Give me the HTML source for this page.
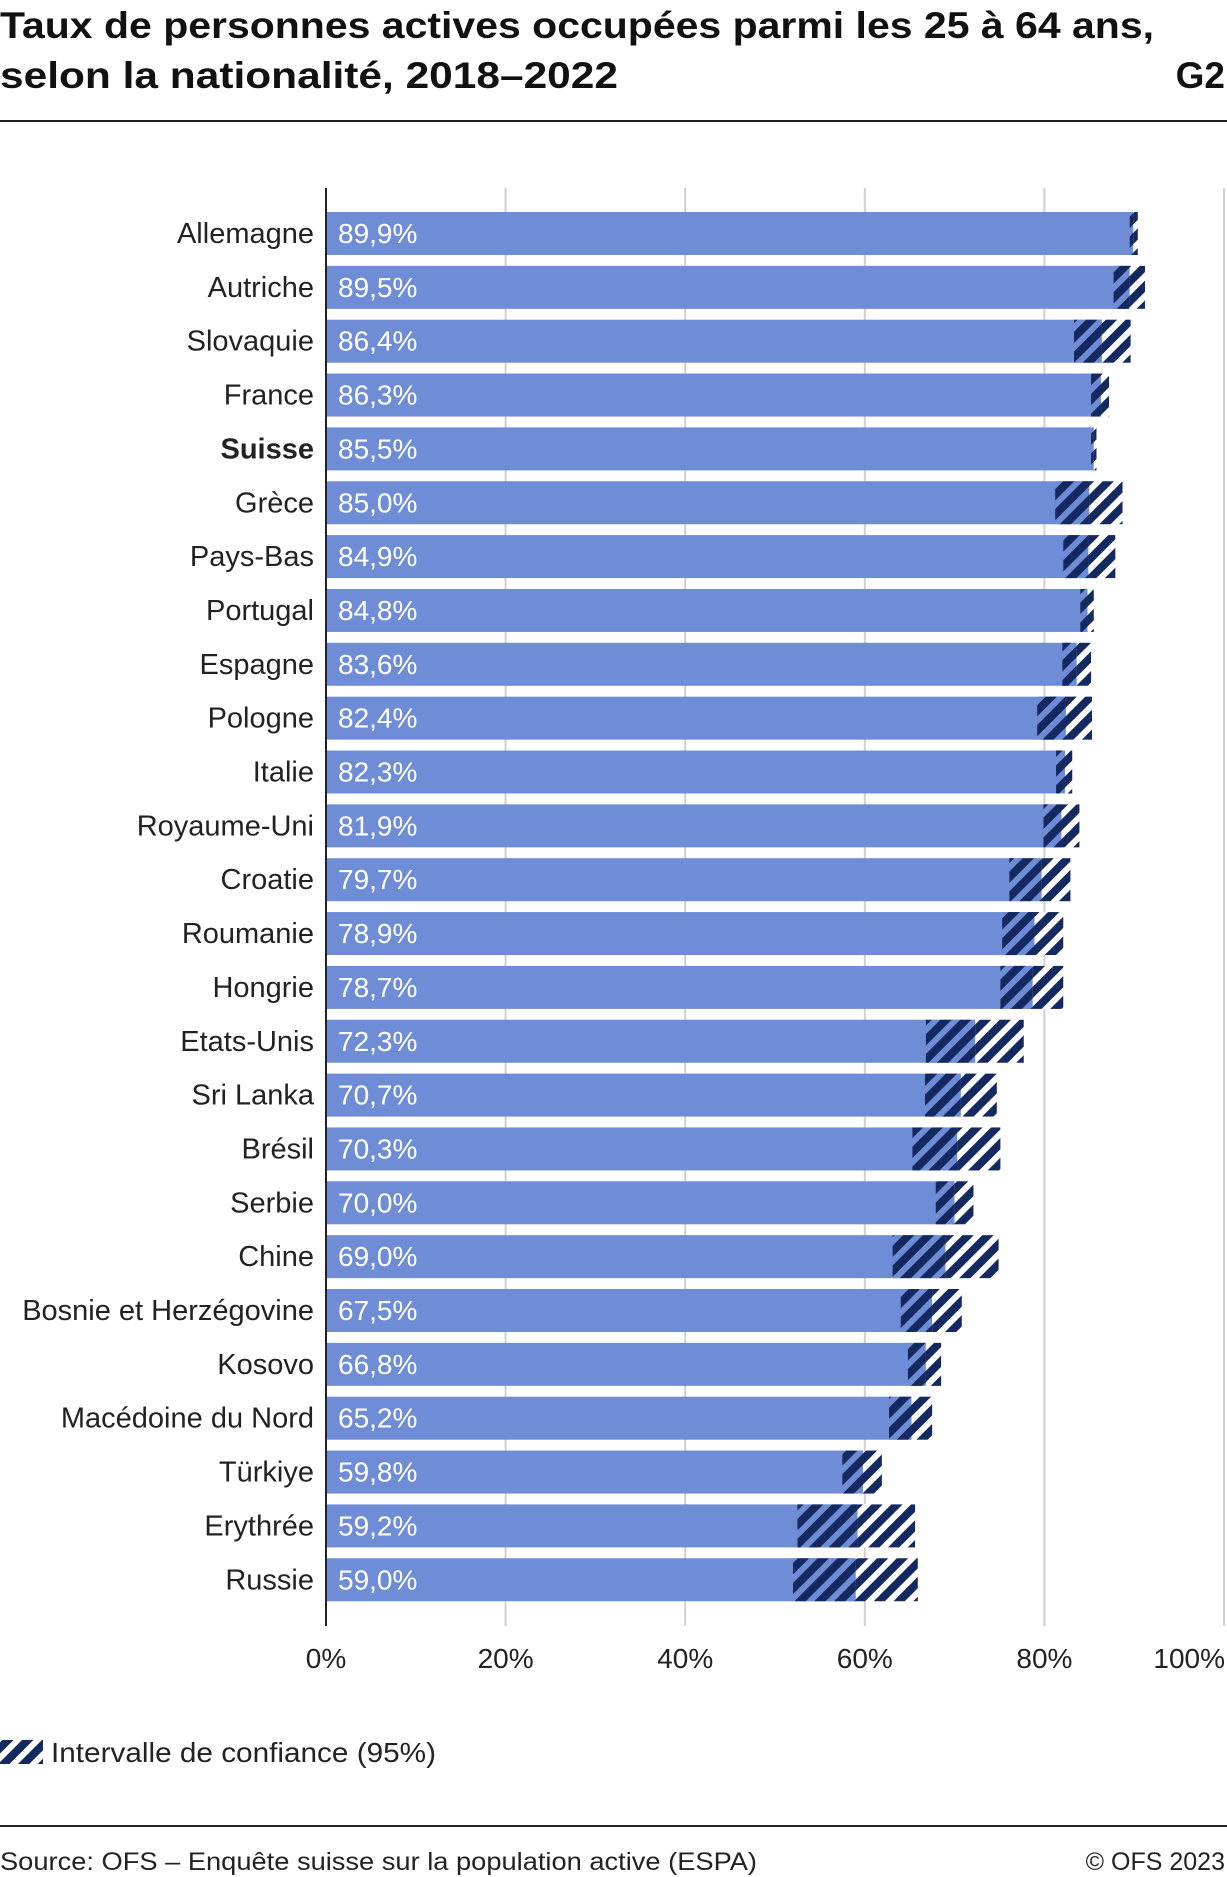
<!DOCTYPE html>
<html><head><meta charset="utf-8"><style>
html,body{margin:0;padding:0;background:#fff;}
svg{display:block;font-family:"Liberation Sans",sans-serif;}
</style></head><body>
<svg id="chart" width="1227" height="1877" viewBox="0 0 1227 1877" xmlns="http://www.w3.org/2000/svg">
<defs>
<pattern id="hatchW" patternUnits="userSpaceOnUse" width="14" height="14" patternTransform="rotate(45)">
<rect width="14" height="14" fill="#fff"/><rect width="8" height="14" fill="#14295f"/></pattern>
<pattern id="hatchB" patternUnits="userSpaceOnUse" width="14" height="14" patternTransform="rotate(45)">
<rect width="14" height="14" fill="#6f8dd6"/><rect width="8" height="14" fill="#14295f"/></pattern>
</defs>
<text x="0" y="38" font-size="37" font-weight="bold" fill="#111" textLength="1154" lengthAdjust="spacingAndGlyphs">Taux de personnes actives occupées parmi les 25 à 64 ans,</text>
<text x="0" y="88" font-size="37" font-weight="bold" fill="#111" textLength="618" lengthAdjust="spacingAndGlyphs">selon la nationalité, 2018–2022</text>
<text x="1225" y="88" font-size="37" font-weight="bold" fill="#111" text-anchor="end">G2</text>
<rect x="0" y="120" width="1227" height="2" fill="#222"/>
<g id="grid"></g>
<g id="bars"></g>
<g id="ticks"></g>
<rect x="325" y="188" width="2" height="1438" fill="#222"/>
<rect x="0" y="1740" width="43" height="24" fill="url(#hatchW)"/>
<text x="51" y="1762" font-size="28" fill="#222" textLength="385" lengthAdjust="spacingAndGlyphs">Intervalle de confiance (95%)</text>
<rect x="0" y="1825" width="1227" height="2" fill="#222"/>
<text x="0" y="1870" font-size="25" fill="#222" textLength="757" lengthAdjust="spacingAndGlyphs">Source: OFS – Enquête suisse sur la population active (ESPA)</text>
<text x="1225" y="1870" font-size="25" fill="#222" text-anchor="end">© OFS 2023</text>
</svg>
<script>
const categories=["Allemagne","Autriche","Slovaquie","France","Suisse","Grèce","Pays-Bas","Portugal","Espagne","Pologne","Italie","Royaume-Uni","Croatie","Roumanie","Hongrie","Etats-Unis","Sri Lanka","Brésil","Serbie","Chine","Bosnie et Herzégovine","Kosovo","Macédoine du Nord","Türkiye","Erythrée","Russie"];
const values=[89.9,89.5,86.4,86.3,85.5,85.0,84.9,84.8,83.6,82.4,82.3,81.9,79.7,78.9,78.7,72.3,70.7,70.3,70.0,69.0,67.5,66.8,65.2,59.8,59.2,59.0];
const ciLow=[89.5,87.7,83.3,85.2,85.2,81.2,82.1,84.0,82.0,79.2,81.3,79.9,76.1,75.3,75.1,66.8,66.7,65.3,67.9,63.1,64.0,64.8,62.7,57.5,52.5,52.0];
const ciHigh=[90.4,91.2,89.6,87.2,85.8,88.7,87.9,85.5,85.2,85.3,83.1,83.9,82.9,82.1,82.1,77.7,74.7,75.1,72.1,74.9,70.8,68.5,67.5,61.9,65.6,65.9];
const tickValues=[0,20,40,60,80,100];
const tickLabels=["0%","20%","40%","60%","80%","100%"];
const NS="http://www.w3.org/2000/svg";
const x=v=>326+v*8.98;
const yTop=i=>212+i*53.85;
const BH=43;
function mk(t,a,p){const e=document.createElementNS(NS,t);for(const k in a)e.setAttribute(k,a[k]);p.appendChild(e);return e;}
const grid=document.getElementById('grid'),bars=document.getElementById('bars'),ticks=document.getElementById('ticks');
tickValues.forEach((v,i)=>{
 if(v>0){const g=mk('rect',{x:x(v)-1,y:188,width:2,height:1438,fill:'#d0d0d0'},grid);
 
 }
 const last=i===tickValues.length-1;
 const t=mk('text',{x:last?1225:x(v),y:1668,'font-size':28,fill:'#222','text-anchor':last?'end':'middle'},ticks);
 t.textContent=tickLabels[i];
 
 
});
categories.forEach((c,i)=>{
 const y=yTop(i);
 const b=mk('rect',{x:x(0),y:y,width:x(values[i])-x(0),height:BH,fill:'#6f8dd6'},bars);
 
 
 const h1=mk('rect',{x:x(ciLow[i]),y:y,width:Math.max(0,x(values[i])-x(ciLow[i])),height:BH,fill:'url(#hatchB)'},bars);
 
 
 const h2=mk('rect',{x:x(values[i]),y:y,width:Math.max(0,x(ciHigh[i])-x(values[i])),height:BH,fill:'url(#hatchW)'},bars);
 
 
 const v=mk('text',{x:338,y:y+31,'font-size':28,fill:'#fff'},bars);
 v.textContent=values[i].toFixed(1).replace('.',',')+'%';
 
 
 const l=mk('text',{x:314,y:y+31,'font-size':29,fill:'#222','text-anchor':'end','font-weight':c==='Suisse'?'bold':'normal'},bars);
 l.textContent=c;
 
 
});
</script>
</body></html>
